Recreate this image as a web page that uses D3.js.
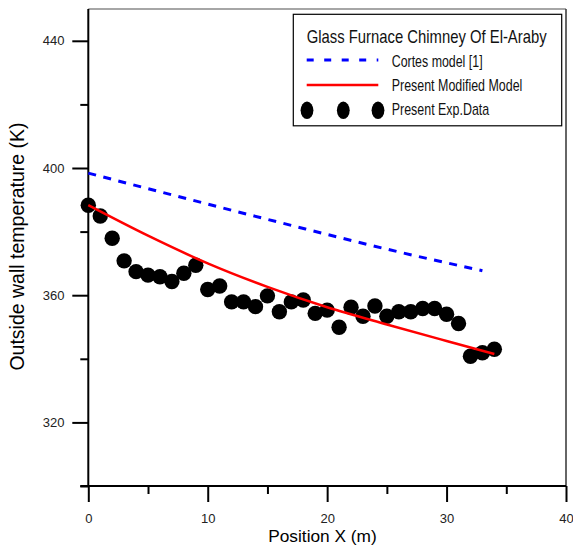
<!DOCTYPE html>
<html>
<head>
<meta charset="utf-8">
<script src="https://cdn.jsdelivr.net/npm/d3@7"></script>
<style>
  html, body { margin: 0; padding: 0; background: #fff; }
  svg { display: block; }
  text { font-family: "Liberation Sans", Arial, sans-serif; }
  .narrow { font-family: "Liberation Sans Narrow", "Arial Narrow", "Liberation Sans", Arial, sans-serif; }
</style>
</head>
<body>
<svg id="chart" width="573" height="545"></svg>
<script>
// ---- data ----
const expX = [0,1,2,3,4,5,6,7,8,9,10,11,12,13,14,15,16,17,18,19,20,21,22,23,24,25,26,27,28,29,30,31,32,33,34];
const expT = [388.3,384.9,377.9,370.8,367.4,366.3,365.8,364.3,366.9,369.4,361.8,362.9,357.9,357.9,356.4,359.8,354.8,357.9,358.5,354.3,355.3,349.9,356.2,353.4,356.6,353.4,354.8,354.8,355.8,355.8,354.0,351.1,340.8,341.9,343.0];
const modelX = [0,5,10,15,20,25,30,34];
const modelT = [388.3,378.7,370.0,362.6,356.2,350.8,345.6,341.5];
const cortesX = [0,16,26,33];
const cortesT = [398.4,382.9,373.6,367.7];
const xMajorTicks = [0,10,20,30,40];
const xMinorTicks = [5,15,25,35];
const yMajorTicks = [320,360,400,440];
const yMinorTicks = [300,340,380,420];
const legendTitle = "Glass Furnace Chimney Of El-Araby";
const legendLabels = ["Cortes model [1]","Present Modified Model","Present Exp.Data"];
const xTitle = "Position X (m)";
const yTitle = "Outside wall temperature (K)";

// ---- layout ----
const svg = d3.select("#chart");
const x = d3.scaleLinear().domain([0,40]).range([88.3,566]);
const y = d3.scaleLinear().domain([300,450]).range([486,9]);

// frame top/right
svg.append("line").attr("x1",x(0)).attr("x2",x(40)).attr("y1",y(450)).attr("y2",y(450))
  .attr("stroke","#888").attr("stroke-width",1.5);
svg.append("line").attr("x1",x(40)).attr("x2",x(40)).attr("y1",y(450)).attr("y2",y(300))
  .attr("stroke","#333").attr("stroke-width",1.5);

function styleAxis(g){
  g.select(".domain").remove();
  g.selectAll(".tick line").attr("stroke","#000").attr("stroke-width",2);
  g.selectAll(".tick text").attr("fill","#222").style("font-size","13px")
    .style("font-family",'"Liberation Sans", Arial, sans-serif');
}

// x axis
svg.append("g").attr("transform",`translate(0,${y(300)})`)
  .call(d3.axisBottom(x).tickValues(xMajorTicks).tickSize(16).tickPadding(11.3).tickFormat(d3.format("d")))
  .call(styleAxis);
svg.append("g").attr("transform",`translate(0,${y(300)})`)
  .call(d3.axisBottom(x).tickValues(xMinorTicks).tickSize(8).tickFormat(""))
  .call(styleAxis);
// y axis
svg.append("g").attr("transform",`translate(${x(0)},0)`)
  .call(d3.axisLeft(y).tickValues(yMajorTicks).tickSize(16).tickPadding(7.8).tickFormat(d3.format("d")))
  .call(styleAxis);
svg.append("g").attr("transform",`translate(${x(0)},0)`)
  .call(d3.axisLeft(y).tickValues(yMinorTicks).tickSize(8).tickFormat(""))
  .call(styleAxis);

// axis lines
svg.append("line").attr("x1",x(0)).attr("x2",x(0)).attr("y1",y(450)).attr("y2",y(300))
  .attr("stroke","#000").attr("stroke-width",2);
svg.append("line").attr("x1",x(0)-8).attr("x2",x(40)).attr("y1",y(300)).attr("y2",y(300))
  .attr("stroke","#000").attr("stroke-width",2);

// axis titles
svg.append("text").attr("x",322.5).attr("y",541.5).attr("text-anchor","middle")
  .style("font-size","17.3px").attr("fill","#000").text(xTitle);
svg.append("text").attr("transform","translate(24,246.5) rotate(-90)").attr("text-anchor","middle")
  .style("font-size","19.5px").attr("fill","#000").text(yTitle);

// lines
const cortesData = cortesX.map((d,i)=>[d,cortesT[i]]);
const modelData = modelX.map((d,i)=>[d,modelT[i]]);
const line = d3.line().x(d=>x(d[0])).y(d=>y(d[1])).curve(d3.curveMonotoneX);

svg.append("path").attr("d",line(cortesData)).attr("fill","none")
  .attr("stroke","#0000ff").attr("stroke-width",3).attr("stroke-dasharray","8,7.5");

// points
svg.append("g").selectAll("circle").data(expX.map((d,i)=>[d,expT[i]])).join("circle")
  .attr("cx",d=>x(d[0])).attr("cy",d=>y(d[1])).attr("r",7.7).attr("fill","#000");

svg.append("path").attr("d",line(modelData)).attr("fill","none")
  .attr("stroke","#ff0000").attr("stroke-width",2.5);

// legend
const lg = svg.append("g");
lg.append("rect").attr("x",293.3).attr("y",14.3).attr("width",268.4).attr("height",111.5)
  .attr("fill","#fff").attr("stroke","#000").attr("stroke-width",1.2);

// fit a text to a given width by horizontal scaling
function fittedText(parent, str, x0, y0, size, width){
  const t = parent.append("text").attr("class","narrow")
    .style("font-size",size+"px").attr("fill","#111").text(str);
  const w = t.node().getComputedTextLength();
  const s = w > 0 ? width / w : 1;
  t.attr("transform",`translate(${x0},${y0}) scale(${s},1)`);
  return t;
}
fittedText(lg, legendTitle, 306.7, 43.3, 18.5, 240);

lg.append("line").attr("x1",306.7).attr("x2",378.3).attr("y1",60).attr("y2",60)
  .attr("stroke","#0000ff").attr("stroke-width",3).attr("stroke-dasharray","7,10.5");
lg.append("line").attr("x1",306.7).attr("x2",378.3).attr("y1",85).attr("y2",85)
  .attr("stroke","#ff0000").attr("stroke-width",2.5);
[307,343.3,378].forEach(cx=>{
  lg.append("ellipse").attr("cx",cx).attr("cy",110.3).attr("rx",6.4).attr("ry",8.7).attr("fill","#000");
});
const lw = [91,130.7,97.6];
const lb = [66.7,90.7,115];
legendLabels.forEach((t,i)=>{
  fittedText(lg, t, 391.7, lb[i], 16, lw[i]);
});
</script>
</body>
</html>
